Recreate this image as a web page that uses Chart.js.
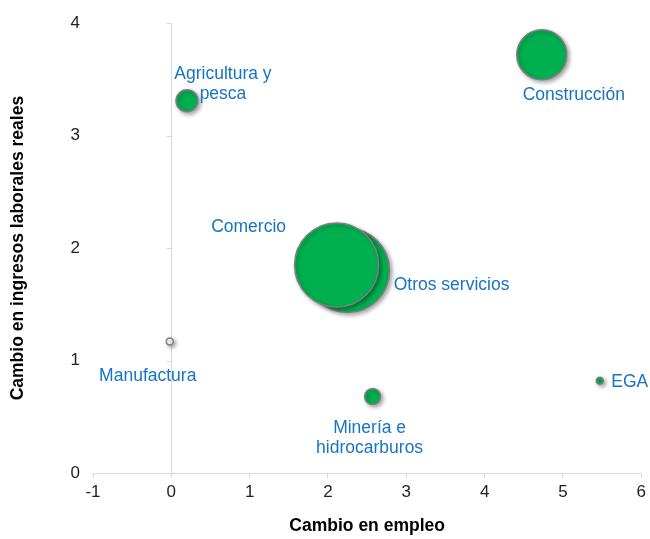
<!DOCTYPE html>
<html>
<head>
  <title>Cambio en empleo e ingresos</title>
  <script src="https://cdn.jsdelivr.net/npm/chart.js"></script>
  <style>
    body { margin: 0; background: white; }
    #wrap { width: 650px; height: 539px; }
  </style>
</head>
<body>
  <div id="wrap"><canvas id="bubbleChart"></canvas></div>

  <script>
    // sectores (Otros servicios antes de Comercio para que Comercio quede encima)
    const sectors = ["Agricultura y|pesca", "Construcción", "Otros servicios", "Comercio", "Manufactura", "Minería e|hidrocarburos", "EGA"];
    const employmentChange = [0.20, 4.73, 2.25, 2.11, -0.02, 2.57, 5.47];
    const incomeChange = [3.31, 3.72, 1.80, 1.85, 1.17, 0.68, 0.82];
    const bubbleSize = [11, 25, 42, 42, 3.5, 8, 3.5];
    const xTicks = [-1, 0, 1, 2, 3, 4, 5, 6];
    const yTicks = [0, 1, 2, 3, 4];

    // estilo de las etiquetas (desplazamiento en px respecto a la burbuja)
    const labelOffsets = [[36, -27], [32, 40], [104, 15], [-88, -38], [-22, 35], [-3, 32], [30, 1]];
    const fillColors = sectors.map(s => s === "Manufactura" ? "#ffffff" : "#00b050");

    const FONT = "'Liberation Sans', Arial, sans-serif";
    const GRID = "#d9d9d9";

    const bubbleExtras = {
      id: "bubbleExtras",
      beforeDatasetsDraw(chart) {
        const ctx = chart.ctx;
        // marcas del eje vertical en x = 0
        const xs = chart.scales.x, ys = chart.scales.y;
        const x0 = xs.getPixelForValue(0);
        ctx.save();
        ctx.strokeStyle = GRID;
        ctx.lineWidth = 1;
        yTicks.forEach(v => {
          const py = Math.round(ys.getPixelForValue(v)) + 0.5;
          ctx.beginPath();
          ctx.moveTo(x0 - 5, py);
          ctx.lineTo(x0, py);
          ctx.stroke();
        });
        ctx.restore();

        ctx.save();
        ctx.shadowColor = "rgba(0,0,0,0.35)";
        ctx.shadowBlur = 4;
        ctx.shadowOffsetX = 2;
        ctx.shadowOffsetY = 2;
      },
      afterDatasetsDraw(chart) {
        const ctx = chart.ctx;
        ctx.restore();
        const meta = chart.getDatasetMeta(0);
        ctx.save();
        ctx.font = "17.5px " + FONT;
        ctx.fillStyle = "#1574c4";
        ctx.textAlign = "center";
        ctx.textBaseline = "middle";
        meta.data.forEach((pt, i) => {
          const lines = sectors[i].split("|");
          const [dx, dy] = labelOffsets[i];
          lines.forEach((line, k) => {
            ctx.fillText(line, pt.x + dx, pt.y + dy + k * 20);
          });
        });
        ctx.restore();
      }
    };

    const ctx = document.getElementById("bubbleChart").getContext("2d");
    const chart = new Chart(ctx, {
      type: "bubble",
      data: {
        datasets: [{
          label: "Sectores",
          data: sectors.map((s, i) => ({ x: employmentChange[i], y: incomeChange[i], r: bubbleSize[i] })),
          backgroundColor: fillColors,
          borderColor: "#7f7f7f",
          borderWidth: 1.5,
          hoverRadius: 0,
          clip: false
        }]
      },
      options: {
        responsive: true,
        maintainAspectRatio: false,
        animation: false,
        events: [],
        layout: { autoPadding: false, padding: { top: 21, right: 7, left: 0, bottom: 0 } },
        plugins: {
          legend: { display: false },
          tooltip: { enabled: false }
        },
        scales: {
          x: {
            type: "linear",
            min: xTicks[0],
            max: xTicks[xTicks.length - 1],
            afterBuildTicks: axis => { axis.ticks = xTicks.map(v => ({ value: v })); },
            afterFit: axis => { axis.height = 66; },
            grid: {
              color: c => (c.tick && c.tick.value === 0) ? GRID : "transparent",
              tickColor: GRID,
              tickLength: 5,
              lineWidth: 1
            },
            border: { display: true, color: GRID, width: 1 },
            ticks: { color: "#222", font: { family: FONT, size: 17 }, padding: 4 },
            title: {
              display: true,
              text: "Cambio en empleo",
              color: "#000",
              font: { family: FONT, size: 17.5, weight: "bold" },
              padding: { top: 0, bottom: 2 }
            }
          },
          y: {
            type: "linear",
            min: yTicks[0],
            max: yTicks[yTicks.length - 1],
            afterBuildTicks: axis => { axis.ticks = yTicks.map(v => ({ value: v })); },
            afterFit: axis => { axis.width = 93; },
            grid: { display: false, drawTicks: false },
            border: { display: false },
            ticks: { color: "#222", font: { family: FONT, size: 17 }, padding: 13 },
            title: {
              display: true,
              text: "Cambio en ingresos laborales reales",
              color: "#000",
              font: { family: FONT, size: 17.5, weight: "bold" },
              padding: { top: 8, bottom: 0 }
            }
          }
        }
      },
      plugins: [bubbleExtras]
    });
  </script>
</body>
</html>
